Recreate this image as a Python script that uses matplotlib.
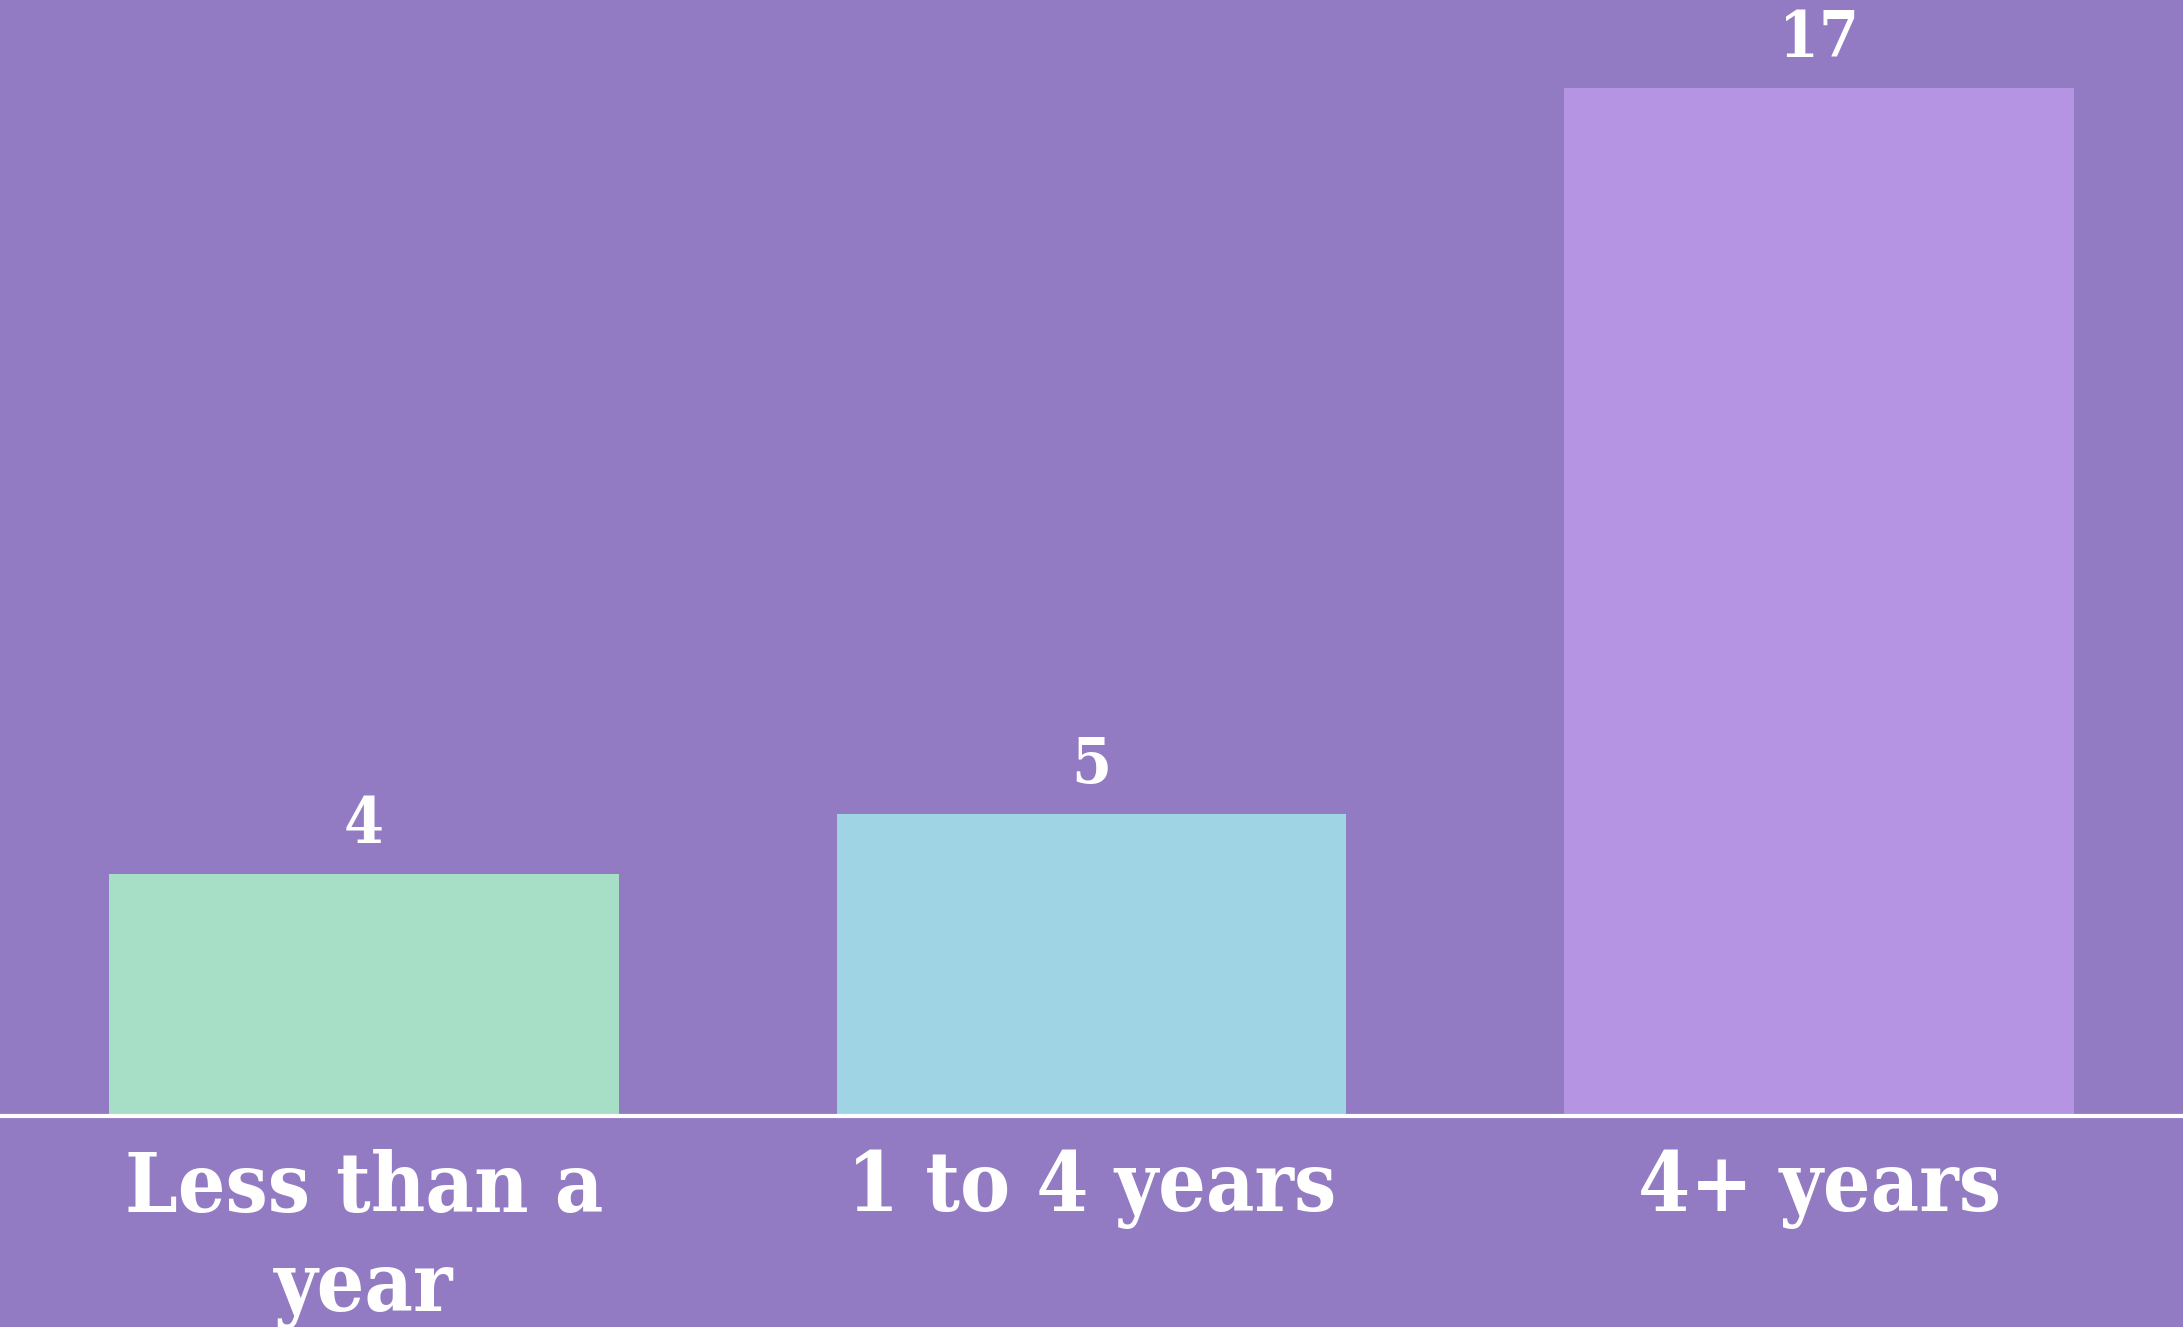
import numpy as np
import matplotlib
matplotlib.use("Agg")
import matplotlib.pyplot as plt

categories = ["Less than a\nyear", "1 to 4 years", "4+ years"]
counts = [4, 5, 17]
bar_colors = ["#A6DEC6", "#9FD4E4", "#B594E3"]

bg = "#937BC3"

fig = plt.figure(figsize=(21.83, 13.27), dpi=100)
fig.patch.set_facecolor(bg)
ax = fig.add_axes([0, 0.159, 1, 0.841])
ax.set_facecolor(bg)

x = np.arange(len(categories))
bars = ax.bar(x, counts, width=0.7, color=bar_colors, zorder=2)

ax.set_xlim(-0.5, 2.5)
ax.set_ylim(0, 18.45)

for b, v in zip(bars, counts):
    ax.annotate(str(v), (b.get_x() + b.get_width() / 2, v),
                xytext=(0, 13), textcoords="offset points",
                ha="center", va="bottom", color="white",
                fontsize=46, fontweight="bold", family="DejaVu Serif",
                fontstretch="condensed")

ax.set_xticks(x)
ax.set_xticklabels(categories, fontsize=60, fontweight="bold",
                   color="white", family="DejaVu Serif",
                   fontstretch="condensed", linespacing=1.3)
ax.tick_params(axis="x", length=0, pad=24)
ax.set_yticks([])

for s in ["top", "right", "left"]:
    ax.spines[s].set_visible(False)
ax.spines["bottom"].set_color("white")
ax.spines["bottom"].set_linewidth(3)
ax.spines["bottom"].set_zorder(3)

fig.savefig("out.png", facecolor=bg)
